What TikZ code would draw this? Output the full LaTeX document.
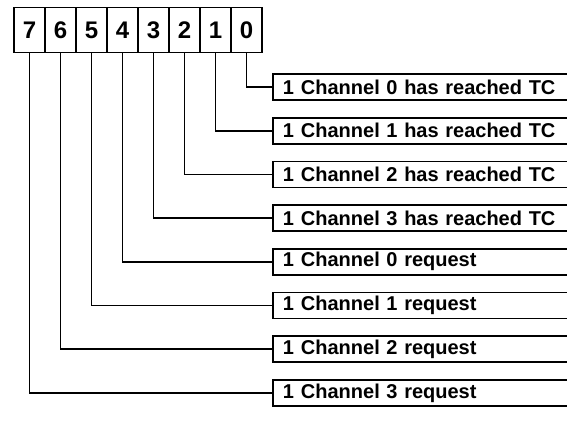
\documentclass[tikz,border=0pt]{standalone}
\usepackage{fontspec}
\setmainfont{Liberation Sans}
\begin{document}
\begin{tikzpicture}[x=1pt,y=-1pt,line width=1.6pt,line join=miter]
  \tikzset{bitcell/.style={draw,minimum width=31pt,minimum height=45pt,inner sep=0pt,
      font=\fontsize{24}{24}\selectfont\bfseries},
    flagbox/.style={draw,anchor=west,minimum height=26pt,text width=282pt,
      inner xsep=10pt,inner ysep=0pt,align=left,
      font=\fontsize{20}{21}\selectfont\bfseries}}
  \useasboundingbox (0,0) rectangle (567,436);
  \clip (0,0) rectangle (567,436);
  % status register bits
  \foreach \b in {0,...,7}
  \node[bitcell] (b\b) at ({29.5+31*(7-\b)},30) {\b};
  % meaning of each bit
  \foreach \b/\txt in {0/Channel 0 has reached TC,1/Channel 1 has reached TC,
      2/Channel 2 has reached TC,3/Channel 3 has reached TC,
      4/Channel 0 request,5/Channel 1 request,6/Channel 2 request,7/Channel 3 request}
  \node[flagbox] (f\b) at (272,{87+43.7*\b}) {1\hspace{7pt}\txt};
  \foreach \b in {0,...,7}
  \draw (b\b.south) |- (f\b.west);
\end{tikzpicture}
\end{document}
